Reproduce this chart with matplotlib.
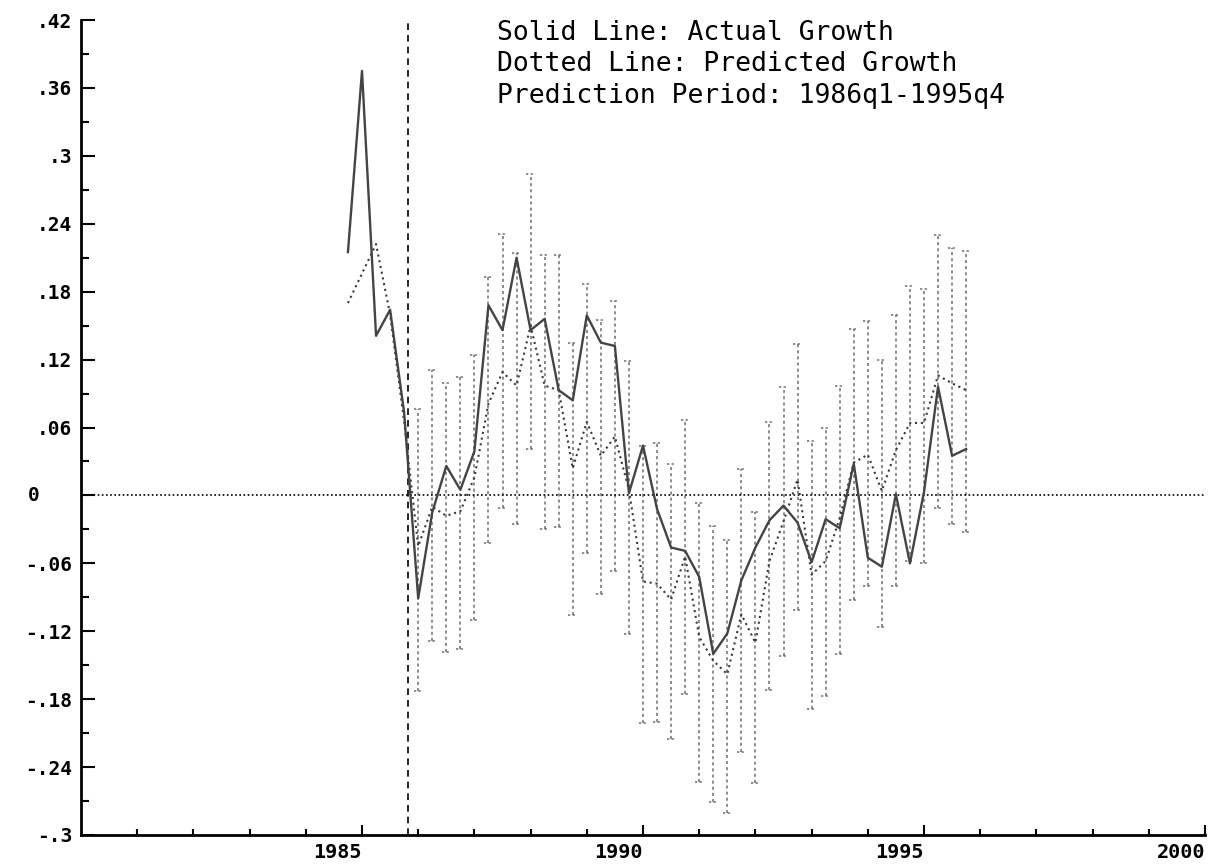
import numpy as np
import pandas as pd
import matplotlib
matplotlib.use('Agg')
import matplotlib.pyplot as plt
from matplotlib.ticker import FixedLocator

# quarterly series, 1984q4 - 1995q4
quarters = pd.period_range('1984Q4', '1995Q4', freq='Q')

actual = [0.215,
          0.375, 0.141, 0.164, 0.073,
          -0.091, -0.015, 0.026, 0.005,
          0.039, 0.168, 0.146, 0.210,
          0.146, 0.156, 0.093, 0.084,
          0.159, 0.135, 0.132, 0.002,
          0.044, -0.012, -0.046, -0.049,
          -0.072, -0.140, -0.122, -0.075,
          -0.046, -0.022, -0.009, -0.024,
          -0.059, -0.021, -0.029, 0.028,
          -0.055, -0.063, 0.001, -0.060,
          0.003, 0.096, 0.035, 0.041]

predicted = [0.170,
             0.196, 0.222, 0.160, 0.065,
             -0.045, -0.010, -0.018, -0.014,
             0.016, 0.081, 0.109, 0.097,
             0.150, 0.097, 0.093, 0.024,
             0.065, 0.035, 0.052, 0.005,
             -0.076, -0.078, -0.092, -0.054,
             -0.125, -0.146, -0.158, -0.105,
             -0.130, -0.058, -0.023, 0.014,
             -0.070, -0.058, -0.020, 0.029,
             0.036, 0.004, 0.040, 0.064,
             0.064, 0.106, 0.099, 0.093]

# prediction interval, 1986q1 - 1995q4
upper = [0.076, 0.111, 0.099, 0.105,
         0.124, 0.193, 0.231, 0.214,
         0.284, 0.212, 0.212, 0.135,
         0.187, 0.155, 0.172, 0.119,
         0.044, 0.046, 0.028, 0.067,
         -0.007, -0.027, -0.039, 0.023,
         -0.015, 0.065, 0.096, 0.134,
         0.048, 0.060, 0.097, 0.147,
         0.154, 0.120, 0.159, 0.185,
         0.182, 0.230, 0.219, 0.216]

lower = [-0.173, -0.129, -0.138, -0.136,
         -0.110, -0.042, -0.011, -0.025,
         0.041, -0.030, -0.028, -0.106,
         -0.051, -0.087, -0.067, -0.122,
         -0.201, -0.200, -0.215, -0.175,
         -0.253, -0.271, -0.281, -0.227,
         -0.254, -0.172, -0.142, -0.101,
         -0.189, -0.177, -0.140, -0.092,
         -0.080, -0.116, -0.080, -0.058,
         -0.060, -0.011, -0.025, -0.032]

ytick_vals = [0.42, 0.36, 0.3, 0.24, 0.18, 0.12, 0.06, 0.0,
              -0.06, -0.12, -0.18, -0.24, -0.3]
ytick_labels = ['.42', '.36', '.3', '.24', '.18', '.12', '.06', '0',
                '-.06', '-.12', '-.18', '-.24', '-.3']
xtick_vals = [1985, 1990, 1995, 2000]
notes = ['Solid Line: Actual Growth',
         'Dotted Line: Predicted Growth',
         'Prediction Period: 1986q1-1995q4']
pred_start = 1985.82

t = np.asarray(quarters.year + (quarters.quarter - 1) / 4, dtype=float)
t_pred = t[t >= 1986]

W, H = 1219, 868
fig = plt.figure(figsize=(W / 100, H / 100), dpi=100)
ax = fig.add_axes([81 / W, 1 - 835 / H, (1205 - 81) / W, (835 - 20) / H])
ax.set_xlim(1980, 2000)
ax.set_ylim(-0.3, 0.42)

bar_col = '#6e6e6e'
ax.vlines(t_pred, lower, upper, colors=bar_col, linestyles=(0, (2, 2)), linewidth=1.1)
ax.hlines(upper, t_pred - 0.08, t_pred + 0.08, colors=bar_col, linestyles=(0, (1.5, 1.5)), linewidth=1.1)
ax.hlines(lower, t_pred - 0.08, t_pred + 0.08, colors=bar_col, linestyles=(0, (1.5, 1.5)), linewidth=1.1)

ax.axhline(0, color='black', linestyle=(0, (1, 1.5)), linewidth=1.2)
ax.axvline(pred_start, color='black', linestyle=(0, (4, 3)), linewidth=1.2)

ax.plot(t, predicted, color='#3a3a3a', linewidth=1.5, linestyle=(0, (1, 1.8)))
ax.plot(t, actual, color='#444444', linewidth=1.7)

for s in ['top', 'right']:
    ax.spines[s].set_visible(False)
for s in ['left', 'bottom']:
    ax.spines[s].set_linewidth(2.0)

mono = 'DejaVu Sans Mono'
ax.set_yticks(ytick_vals)
ax.set_yticklabels(['' if v == 0 else l for v, l in zip(ytick_vals, ytick_labels)],
                   fontfamily=mono, fontweight='bold', fontsize=14)
ax.yaxis.set_minor_locator(FixedLocator(np.arange(-0.27, 0.42, 0.06)))
ax.text(-0.042, 0, ytick_labels[ytick_vals.index(0.0)], transform=ax.get_yaxis_transform(),
        ha='center', va='center', fontfamily=mono, fontweight='bold', fontsize=14)

ax.set_xticks(xtick_vals)
ax.set_xticklabels([str(v) for v in xtick_vals], fontfamily=mono, fontweight='bold',
                   fontsize=14.5, ha='right')
ax.xaxis.set_minor_locator(FixedLocator(range(1981, 2000)))

ax.tick_params(axis='y', which='major', direction='in', length=10, width=1.5, pad=6.5)
ax.tick_params(axis='y', which='minor', direction='in', length=6, width=1.5)
ax.tick_params(axis='x', which='major', direction='in', length=7, width=1.5, pad=6)
ax.tick_params(axis='x', which='minor', direction='in', length=4, width=1.5)

for i, line in enumerate(notes):
    ax.text(0.370, 0.9755 - i * 0.0385, line, transform=ax.transAxes,
            fontfamily=mono, fontsize=19, va='baseline', ha='left')

fig.savefig('out.png', dpi=100, facecolor='white')
